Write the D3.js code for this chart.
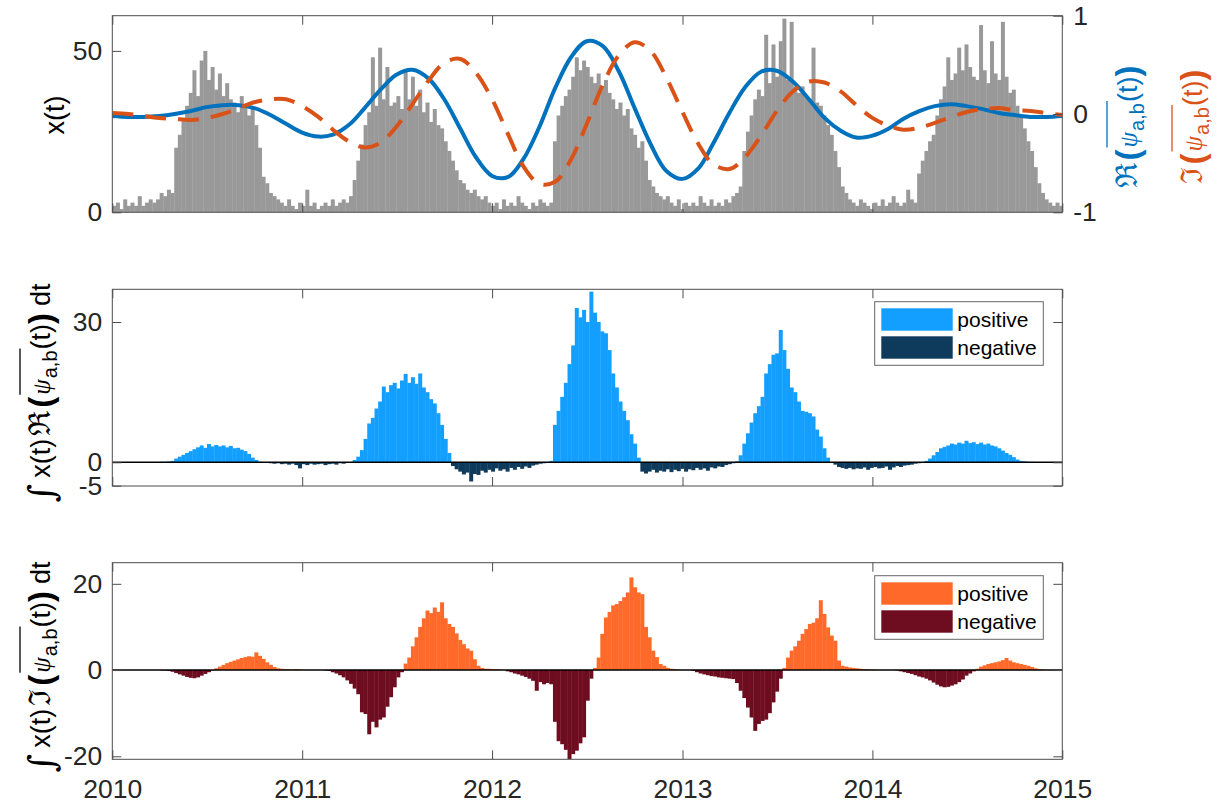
<!DOCTYPE html>
<html>
<head>
<meta charset="utf-8">
<script src="https://cdn.jsdelivr.net/npm/d3@7"></script>
<style>
  body { margin: 0; background: #fff; }
  svg { display: block; }
</style>
</head>
<body>
<svg id="chart" width="1221" height="805"></svg>
<script>
// ---------------- data ----------------
// Year ticks on the shared time axis
const years = [2010, 2011, 2012, 2013, 2014, 2015];

// x(t): weekly values starting 2010-01-01
const signal = [
  2,3,1,4,2,3,2,5,2,3,4,3,
  4,6,5,7,6,
  20,24,29,
  33,37,44,36,47,50,
  41,45,38,43,36,40,35,
  34,31,36,33,30,32,
  27,20,11,
  9,6,5,4,
  3,2,4,2,1,3,2,7,2,3,1,2,3,2,4,2,
  3,4,3,5,
  10,16,21,
  27,31,48,33,51,
  35,45,33,34,36,32,44,35,42,33,38,
  31,34,28,32,27,26,
  22,19,16,13,10,9,7,
  6,7,5,4,5,3,
  2,3,1,4,2,3,2,5,3,2,1,3,2,4,3,2,3,
  22,
  30,33,36,38,
  42,48,44,47,45,
  42,40,43,39,41,37,
  35,32,34,30,32,26,
  24,20,22,16,10,
  8,6,5,4,5,
  3,2,4,1,3,2,3,2,5,3,2,4,2,3,2,4,3,5,
  6,8,
  19,25,30,35,
  38,36,55,40,52,
  42,53,60,41,59,39,
  37,39,36,35,51,34,33,
  30,27,24,
  19,14,8,6,
  4,3,2,4,3,2,1,3,2,4,2,3,5,3,2,3,7,4,3,
  12,16,19,22,24,30,
  35,39,48,41,43,51,44,52,
  45,42,41,58,44,40,53,43,41,59,42,
  37,38,33,30,26,22,
  19,14,9,6,
  4,3,2,3,2
];

// x(t)·Re(conj psi_ab(t)): weekly values
const reProduct = [
  0,0,0,0,0,0,0,0,0,0,0,0,0,0.1,0.1,0.2,0.3,
  0.8,1.2,1.6,2.0,
  2.4,2.8,3.2,3.6,3.1,3.9,3.4,
  3.7,3.4,3.6,3.2,3.5,3.0,3.1,
  2.7,2.4,1.8,1.0,0.5,
  0.1,0,
  -0.1,-0.2,-0.3,-0.2,-0.4,-0.3,-0.5,-0.3,-0.6,-1.3,-0.4,-0.6,-0.3,-0.5,-0.4,-0.3,-0.6,-0.4,-0.3,-0.5,-0.2,-0.3,-0.1,-0.1,
  0.5,1.2,2.6,5,8.3,9.5,11.5,13,16.2,15,
  16.5,17,15.8,17.5,18.9,17,18.2,16.8,19,
  16,15,13.5,12.6,
  10.5,8,5,2,
  -0.8,-1.5,-2,-2.6,-2.2,-4.1,-2.5,-2.7,-1.8,-2.2,-1.6,-2.0,-1.3,-1.8,-1.5,-2.0,-1.2,-1.6,-1.0,-1.4,-0.9,-1.2,-0.7,-0.5,-0.3,-0.2,
  0.1,0.3,
  8,11,14,17,21,25,33,
  31,32.6,30,36.5,32,
  30,28,27.6,24,19,16,13,11,9,6,4,1,
  -2,-2.4,-2,-1.6,-2.2,-1.8,-2,-1.5,-2.1,-1.6,-1.9,-1.4,-2.0,-1.5,-1.7,-1.2,-1.6,-1.3,-1.8,-1.1,-1.3,-0.9,-1.0,-0.6,-0.4,-0.2,
  0.2,1.5,4,6.2,8.5,10.5,12,14,19,21,23,23.3,28.3,24,20,
  16,15,13,11,10.8,10.5,9.8,7,5.5,3,1,
  0,
  -0.5,-1,-1.2,-1.4,-1.2,-1.5,-1.3,-1.4,-1.1,-1.6,-1.2,-1.0,-1.3,-1.2,-0.9,-1.6,-1.1,-0.8,-1.0,-0.7,-0.6,-0.5,-0.3,-0.2,-0.1,
  0.3,0.8,1.5,2.2,3.0,3.3,
  3.6,4.0,3.8,4.2,4.0,4.6,4.1,4.3,3.9,4.2,3.8,4.0,3.6,3.4,3.0,
  2.5,2.0,1.6,1.1,0.6,
  0.3,0.2,0.1,0.1,0,0,0,0,0,0,0,0
];

// x(t)·Im(conj psi_ab(t)): weekly values
const imProduct = [
  0,0,0,0,0,0,0,0,0,0,0,0,0,-0.1,-0.1,-0.2,
  -0.4,-0.7,-1.0,-1.3,-1.6,-1.8,-1.9,-1.7,-1.3,-0.9,-0.5,-0.1,
  0.4,0.8,1.2,1.6,1.9,2.2,2.5,2.8,3.0,3.2,3.1,4.1,3.3,2.6,1.8,1.2,0.7,0.4,0.3,
  0.2,0.2,0.1,0.2,0.1,0,0,0,0,0,0,-0.1,-0.2,
  -0.5,-0.8,-1.2,-1.7,-2.4,-3.2,-4.3,-5.6,-9.8,-10.2,-14.9,-12,-13.3,-11.5,-11,-8.5,-6.3,-4,-1.7,-0.5,
  1.5,2.9,5.5,7.6,10,12,13.8,13.2,14.5,13.5,15.7,12,10.7,
  10,8.5,7,6,5,4.5,2.5,1,0.5,0.3,0.3,0.2,0.2,0.1,0,
  -0.3,-0.5,-0.8,-1.0,-1.3,-1.6,-2.0,-2.5,-4.8,-2.8,-3.3,-3.0,-3.3,
  -12,-16.5,-17.2,-18.5,-20.7,-19.5,-18.7,-17,-15.6,-7.1,-2,
  0.5,2.9,8.4,12.2,13.5,15,15.3,16,16.9,18,21.5,19.2,18,17.6,10,7.6,4.5,3,1.4,1,0.5,0.3,0.2,0.1,
  0,0,0,-0.2,-0.5,
  -0.8,-1.0,-1.2,-1.4,-1.5,-1.7,-1.8,-1.9,-2.0,-2.1,-3.0,-4.8,
  -6.5,-8.7,-11,-14.1,-12.5,-11.8,-11.5,-10,-7.5,-5,-2,
  0.5,2.9,4.5,5.5,6.8,8.4,9.5,10.7,11,12,16.2,13,9.9,8,6.8,2.2,
  1.0,0.8,0.6,0.5,0.4,0.3,0.2,0.2,0.1,0.1,0,0,0,0,0,-0.1,
  -0.3,-0.5,-0.7,-0.9,-1.2,-1.5,-1.7,-2.0,-2.4,-2.9,-3.4,-3.8,-4.0,-3.9,-3.6,-3.3,-2.8,-2.2,-1.3,-0.8,-0.3,
  0.3,0.8,1.1,1.4,1.6,1.8,2.0,2.3,2.8,2.2,1.8,1.6,1.4,1.2,1.0,0.7,0.4,0.2,0.1,0,
  0,0,0,0
];

// Re and Im of the conjugated wavelet, monthly from 2010-01
const waveletRe = [
  -0.02,-0.03,-0.03,-0.02,0.00,0.03,0.07,0.09,0.09,0.06,
  -0.01,-0.10,-0.19,-0.23,-0.21,-0.11,0.06,0.25,0.40,0.45,
  0.36,0.15,-0.15,-0.44,-0.63,-0.64,-0.46,-0.13,0.26,0.58,
  0.74,0.69,0.43,0.06,-0.31,-0.58,-0.66,-0.55,-0.30,0.01,
  0.27,0.43,0.44,0.33,0.15,-0.04,-0.17,-0.24,-0.22,-0.15,
  -0.05,0.03,0.08,0.10,0.08,0.05,0.01,-0.01,-0.03,-0.03,
  -0.02
];
const waveletIm = [
  0.01,0.00,-0.02,-0.04,-0.05,-0.06,-0.04,0.00,0.06,0.12,
  0.15,0.15,0.08,-0.03,-0.16,-0.28,-0.34,-0.29,-0.13,0.10,
  0.34,0.52,0.56,0.42,0.15,-0.21,-0.53,-0.71,-0.69,-0.46,
  -0.10,0.30,0.60,0.73,0.64,0.37,0.02,-0.31,-0.51,-0.56,
  -0.44,-0.22,0.03,0.23,0.33,0.32,0.23,0.09,-0.04,-0.12,
  -0.16,-0.14,-0.09,-0.03,0.02,0.05,0.06,0.04,0.03,0.01,
  -0.01
];

// Tick values
const ticksTopLeft = [0, 50];
const ticksTopRight = [-1, 0, 1];
const ticksMid = [-5, 0, 30];
const ticksBot = [-20, 0, 20];
const legendLabels = ["positive", "negative"];

// ---------------- setup ----------------
const SANS = "'Liberation Sans', Arial, Helvetica, sans-serif";
const TXT = "#262626";
const AX = "#4d4d4d";
const FS = 26.5;
const START = new Date(Date.UTC(2010, 0, 1));
const END = new Date(Date.UTC(2015, 0, 1));
const weekStarts = signal.map((_, i) => d3.utcDay.offset(START, 7 * i));
const monthStarts = waveletRe.map((_, k) => d3.utcMonth.offset(START, k));
const yearDates = years.map(y => new Date(Date.UTC(y, 0, 1)));

const svg = d3.select("#chart");
const XL = 112.3, XR = 1062.3;
const x = d3.scaleUtc().domain([START, END]).range([XL, XR]);

const P = {
  top: { y0: 15.7, y1: 212.3 },
  mid: { y0: 289.3, y1: 486 },
  bot: { y0: 562.7, y1: 759.3 }
};
const yTop = d3.scaleLinear().domain([0, 60.9]).range([P.top.y1, P.top.y0]);
const yTopR = d3.scaleLinear().domain([-1, 1]).range([P.top.y1, P.top.y0]);
const yMid = d3.scaleLinear().domain([-5.07, 37.0]).range([P.mid.y1, P.mid.y0]);
const yBot = d3.scaleLinear().domain([-20.7, 24.9]).range([P.bot.y1, P.bot.y0]);

const defs = svg.append("defs");
function clipFor(id, p) {
  defs.append("clipPath").attr("id", id)
    .append("rect").attr("x", XL).attr("y", p.y0)
    .attr("width", XR - XL).attr("height", p.y1 - p.y0);
  return `url(#${id})`;
}

function drawBars(p, id, values, y, colorFn) {
  const g = svg.append("g").attr("clip-path", clipFor(id, p));
  g.selectAll("rect").data(values).join("rect")
    .attr("x", (d, i) => x(weekStarts[i]))
    .attr("width", (d, i) => x(d3.utcDay.offset(weekStarts[i], 7)) - x(weekStarts[i]) + 0.35)
    .attr("y", d => y(Math.max(d, 0)))
    .attr("height", d => Math.abs(y(d) - y(0)))
    .attr("fill", colorFn);
  return g;
}

function styleAxis(g) {
  g.select(".domain").remove();
  g.selectAll(".tick line").attr("stroke", AX).attr("stroke-width", 1);
  g.selectAll(".tick text").attr("fill", TXT).attr("font-family", SANS).attr("font-size", FS);
}

function frame(p, yL, ticksL, yR, ticksR, showRightLabels, showX) {
  const g = svg.append("g");
  const fmt = d => String(d);
  g.append("g").attr("transform", `translate(0,${p.y1})`)
    .call(d3.axisBottom(x).tickValues(yearDates).tickSize(-9).tickSizeOuter(0)
      .tickPadding(20).tickFormat(showX ? d3.utcFormat("%Y") : () => ""))
    .call(styleAxis);
  g.append("g").attr("transform", `translate(0,${p.y0})`)
    .call(d3.axisTop(x).tickValues(yearDates).tickSize(-9).tickSizeOuter(0).tickFormat(() => ""))
    .call(styleAxis);
  g.append("g").attr("transform", `translate(${XL},0)`)
    .call(d3.axisLeft(yL).tickValues(ticksL).tickSize(-9).tickSizeOuter(0).tickPadding(10).tickFormat(fmt))
    .call(styleAxis);
  g.append("g").attr("transform", `translate(${XR},0)`)
    .call(d3.axisRight(yR).tickValues(ticksR).tickSize(-9).tickSizeOuter(0).tickPadding(11)
      .tickFormat(showRightLabels ? fmt : () => ""))
    .call(styleAxis);
  g.append("rect").attr("x", XL).attr("y", p.y0).attr("width", XR - XL).attr("height", p.y1 - p.y0)
    .attr("fill", "none").attr("stroke", AX).attr("stroke-width", 1);
}

function zeroLine(p, y) {
  svg.append("line").attr("x1", XL).attr("x2", XR).attr("y1", y(0)).attr("y2", y(0))
    .attr("stroke", "#000").attr("stroke-width", 1.6);
}

function legend(top, colors) {
  const g = svg.append("g");
  g.append("rect").attr("x", 874.7).attr("y", top).attr("width", 168.6).attr("height", 63.6)
    .attr("fill", "#fff").attr("stroke", "#666").attr("stroke-width", 1);
  legendLabels.forEach((lab, i) => {
    const cy = top + 17.8 + i * 28;
    g.append("rect").attr("x", 881.3).attr("y", cy - 11.2).attr("width", 71.4).attr("height", 22.4)
      .attr("fill", colors[i]);
    g.append("text").attr("x", 957.3).attr("y", cy).attr("dy", "0.36em")
      .attr("font-family", SANS).attr("font-size", 21).attr("fill", "#000").text(lab);
  });
}

// Rotated label built from text pieces (supports overline, sub-scripts, symbols)
function mathLabel(cx, cy, parts, color) {
  const outer = svg.append("g").attr("transform", `translate(${cx},${cy}) rotate(-90)`);
  const inner = outer.append("g");
  let pos = 0, ov = null;
  parts.forEach(p => {
    pos += (p.pre || 0);
    const t = inner.append("text").attr("x", pos).attr("y", p.dy || 0)
      .attr("font-family", p.f || SANS).attr("font-size", p.s || 27)
      .attr("font-style", p.it ? "italic" : null)
      .attr("font-weight", p.b ? "bold" : null)
      .attr("fill", color).text(p.t);
    const w = t.node().getComputedTextLength();
    if (p.ov) { if (!ov) ov = { a: pos }; ov.b = pos + w; }
    pos += w + (p.gap || 0);
  });
  if (ov) {
    inner.append("line").attr("x1", ov.a).attr("x2", ov.b + 2).attr("y1", -30).attr("y2", -30)
      .attr("stroke", color).attr("stroke-width", 1.3);
  }
  inner.attr("transform", `translate(${-pos / 2},0)`);
}

const SERIF = "'DejaVu Serif', 'Liberation Serif', serif";
const PSI = "'Liberation Serif', 'DejaVu Serif', serif";
function psiParts(sym) {
  return [
    { t: sym, f: SERIF, s: 30, gap: 3 },
    { t: "(", s: 33, b: true, dy: 2, gap: 2 },
    { t: "ψ", f: PSI, s: 25, it: true, ov: true, gap: 1 },
    { t: "a,b", s: 20, dy: 7, ov: true, gap: 1 },
    { t: "(t)", s: 27 },
    { t: ")", s: 33, b: true, dy: 2 }
  ];
}

// ---------------- top panel ----------------
drawBars(P.top, "clipTop", signal, yTop, () => "#999999");
const lineG = svg.append("g").attr("clip-path", clipFor("clipTopL", P.top));
const wavePath = d3.line().x((d, k) => x(monthStarts[k])).y(d => yTopR(d)).curve(d3.curveCatmullRom);
lineG.append("path").datum(waveletRe).attr("d", wavePath)
  .attr("fill", "none").attr("stroke", "#0072BD").attr("stroke-width", 4);
lineG.append("path").datum(waveletIm).attr("d", wavePath)
  .attr("fill", "none").attr("stroke", "#D95319").attr("stroke-width", 4)
  .attr("stroke-dasharray", "21,12");
frame(P.top, yTop, ticksTopLeft, yTopR, ticksTopRight, true, false);

// ---------------- middle panel ----------------
drawBars(P.mid, "clipMid", reProduct, yMid, d => d >= 0 ? "#139FFF" : "#0E3A5B");
zeroLine(P.mid, yMid);
frame(P.mid, yMid, ticksMid, yMid, ticksMid, false, false);
legend(301.7, ["#139FFF", "#0E3A5B"]);

// ---------------- bottom panel ----------------
drawBars(P.bot, "clipBot", imProduct, yBot, d => d >= 0 ? "#FF6A2B" : "#6E0D20");
zeroLine(P.bot, yBot);
frame(P.bot, yBot, ticksBot, yBot, ticksBot, false, true);
legend(575.7, ["#FF6A2B", "#6E0D20"]);

// ---------------- axis labels ----------------
svg.append("text").attr("transform", "translate(64,115) rotate(-90)")
  .attr("text-anchor", "middle").attr("font-family", SANS).attr("font-size", 27)
  .attr("fill", "#000").text("x(t)");

const intHead = [
  { t: "∫", f: SERIF, s: 36, it: true, dy: 4, gap: 6 },
  { t: "x(t)", s: 27, gap: 3 }
];
const dtTail = [{ t: "dt", s: 27, pre: 7 }];
mathLabel(50, 393, [...intHead, ...psiParts("ℜ"), ...dtTail], "#000");
mathLabel(50, 667, [...intHead, ...psiParts("ℑ"), ...dtTail], "#000");
mathLabel(1137, 127, psiParts("ℜ"), "#0072BD");
mathLabel(1202, 127, psiParts("ℑ"), "#D95319");
</script>
</body>
</html>
